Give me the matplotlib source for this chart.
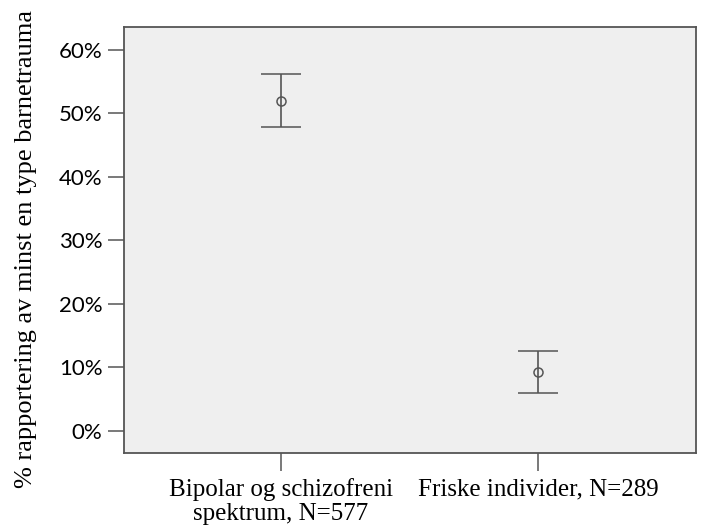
import numpy as np
import matplotlib
matplotlib.use("Agg")
import matplotlib.pyplot as plt
from matplotlib.ticker import PercentFormatter

# data
groups = ["Bipolar og schizofreni\nspektrum, N=577", "Friske individer, N=289"]
means = [52.0, 9.2]
ci_low = [47.9, 5.9]
ci_high = [56.2, 12.6]
yticks = [0, 10, 20, 30, 40, 50, 60]

line_col = "#555555"

fig = plt.figure(figsize=(7.06, 5.31), dpi=100)
ax = fig.add_axes([0.1756, 0.1469, 0.8102, 0.8023])
ax.set_facecolor("#efefef")

x = np.arange(1, len(groups) + 1)
means = np.array(means)
err = np.vstack([means - np.array(ci_low), np.array(ci_high) - means])
ax.errorbar(x, means, yerr=err, fmt="o", color=line_col, ecolor=line_col,
            mfc="none", mec=line_col, ms=6.5, mew=1.1, elinewidth=1.2,
            capsize=14.5, capthick=1.2)

ax.set_xlim(0.39, 2.615)
ax.set_ylim(-3.5, 63.6)
ax.set_xticks(x)
ax.set_xticklabels(groups, family="Liberation Serif", fontsize=18, linespacing=1.1)
ax.set_yticks(yticks)
ax.yaxis.set_major_formatter(PercentFormatter(decimals=0))
for lab in ax.get_yticklabels():
    lab.set_family("Lato")
    lab.set_fontsize(16)

ax.tick_params(axis="y", length=11.5, width=1.1, color=line_col, pad=4)
ax.tick_params(axis="x", length=13, width=1.1, color=line_col, pad=5)
for s in ax.spines.values():
    s.set_color(line_col)
    s.set_linewidth(1.3)

ax.set_ylabel("% rapportering av minst en type barnetrauma",
              family="Liberation Serif", fontsize=19)
ax.yaxis.set_label_coords(-0.152, 0.478)

fig.savefig("out.png", dpi=100)
